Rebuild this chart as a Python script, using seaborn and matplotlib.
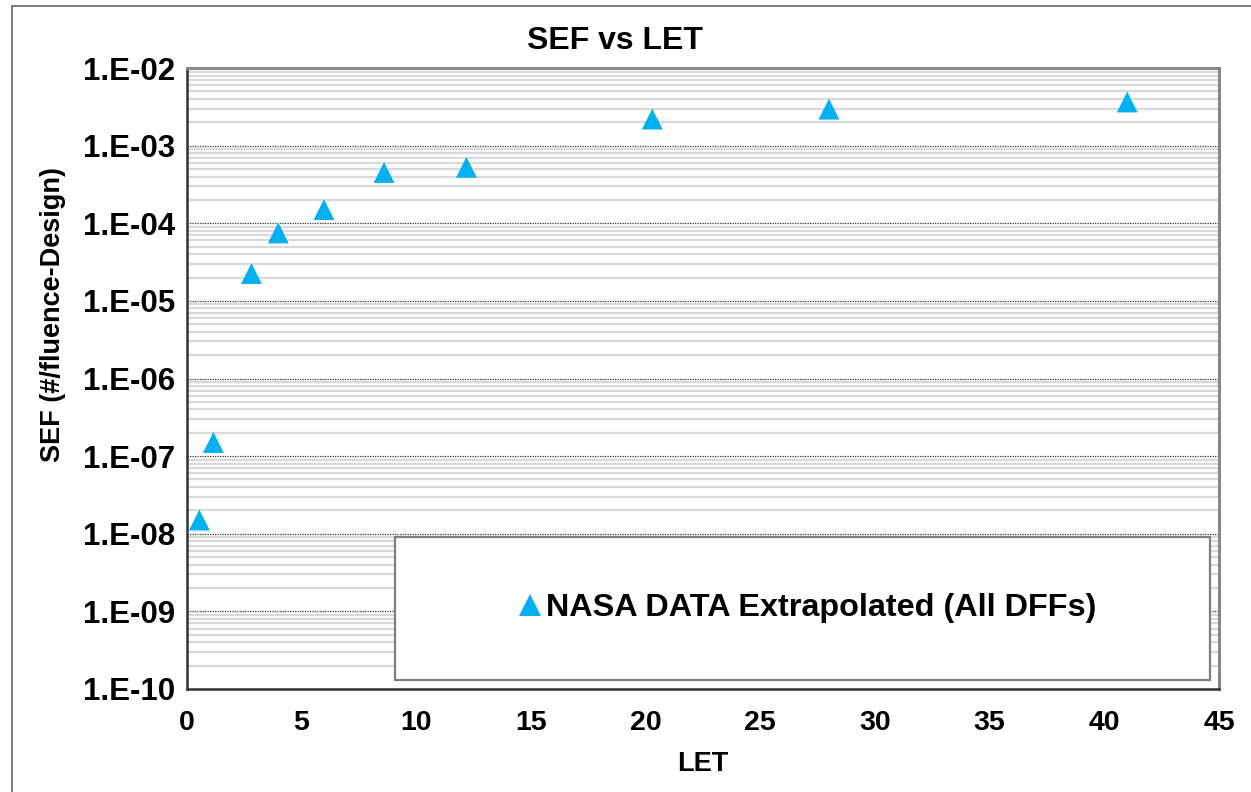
import numpy as np
import pandas as pd
import matplotlib
matplotlib.use("Agg")
import matplotlib.pyplot as plt
import matplotlib.ticker as mticker
from matplotlib.patches import Rectangle
import seaborn as sns

# ---- data ----
let_vals = [0.56, 1.17, 2.83, 4.0, 5.99, 8.61, 12.2, 20.3, 28.0, 41.0]
sef_vals = [1.5e-8, 1.5e-7, 2.25e-5, 7.5e-5, 1.5e-4, 4.5e-4, 5.25e-4, 2.2e-3, 2.95e-3, 3.65e-3]
series_name = "NASA DATA Extrapolated (All DFFs)"
x_ticks = [0, 5, 10, 15, 20, 25, 30, 35, 40, 45]
y_decades = [-10, -9, -8, -7, -6, -5, -4, -3, -2]

df = pd.DataFrame({"LET": let_vals, "SEF": sef_vals, "series": series_name})

sns.set_style("white")
plt.rcParams["font.family"] = ["Liberation Sans", "DejaVu Sans"]
plt.rcParams["font.weight"] = "bold"
plt.rcParams["text.color"] = "black"
plt.rcParams["axes.labelcolor"] = "black"
plt.rcParams["xtick.color"] = "black"
plt.rcParams["ytick.color"] = "black"

W, H, DPI = 1251, 792, 100
fig = plt.figure(figsize=(W / DPI, H / DPI), dpi=DPI)
L, R, T, B = 186.5, 1219, 68, 689
ax = fig.add_axes([L / W, 1 - B / H, (R - L) / W, (B - T) / H])

sns.scatterplot(data=df, x="LET", y="SEF", hue="series", palette=["#00B0F0"],
                marker="^", s=225, linewidth=0, ax=ax, zorder=5, legend=False)

ax.set_yscale("log")
ax.set_ylim(1e-10, 1e-2)
ax.set_xlim(0, 45)

# ticks
ax.set_xticks(x_ticks)
ax.xaxis.set_minor_locator(mticker.MultipleLocator(1))
ax.set_yticks([10.0 ** d for d in y_decades])
ax.yaxis.set_minor_locator(mticker.LogLocator(base=10, subs=np.arange(2, 10), numticks=100))
ax.yaxis.set_minor_formatter(mticker.NullFormatter())
ax.yaxis.set_major_formatter(mticker.FuncFormatter(
    lambda v, p: "1.E" + format(int(round(np.log10(v))), "03d")))
ax.tick_params(axis="both", which="major", direction="out", length=7, width=1.2,
               color="#222222", labelcolor="black")
ax.tick_params(axis="both", which="minor", direction="out", length=4.5, width=1.0,
               color="#222222")
ax.tick_params(axis="y", which="major", labelsize=22.5, pad=1)
ax.tick_params(axis="x", which="major", labelsize=20.5, pad=8)
for lab in ax.get_xticklabels() + ax.get_yticklabels():
    lab.set_fontweight("bold")

# grid
ax.grid(False)
ax.yaxis.grid(True, which="minor", color="#D9D9D9", linewidth=1.6, zorder=0)
ax.yaxis.grid(True, which="major", color="#333333", linewidth=0.9,
              linestyle=(0, (1, 1)), zorder=1)
ax.set_axisbelow(True)

# spines
for side in ["left", "bottom"]:
    ax.spines[side].set_color("#333333")
    ax.spines[side].set_linewidth(1.8)
for side in ["top", "right"]:
    ax.spines[side].set_color("#888888")
    ax.spines[side].set_linewidth(2.2)

# labels
ax.set_xlabel("LET", fontsize=19.5, fontweight="bold", color="black")
ax.xaxis.set_label_coords(0.5, (B - 751) / (B - T))
ax.set_ylabel("SEF (#/fluence-Design)", fontsize=19.5, fontweight="bold", color="black")
ax.yaxis.set_label_coords((66 - L) / (R - L), (B - 314) / (B - T))

fig.text(615 / W, 1 - 41 / H, "SEF vs LET", ha="center", va="center",
         fontsize=23, fontweight="bold", color="black")

# legend box
bx0, bx1, by0, by1 = 395, 1210, 537, 680
ax.add_patch(Rectangle(((bx0 - L) / (R - L), (B - by1) / (B - T)),
                       (bx1 - bx0) / (R - L), (by1 - by0) / (B - T),
                       transform=ax.transAxes, facecolor="white",
                       edgecolor="#7F7F7F", linewidth=1.6, zorder=6))
handle = plt.Line2D([], [], marker="^", linestyle="none", color="#00B0F0",
                    markersize=15.5, markeredgewidth=0)
leg = ax.legend([handle], [series_name], loc="center", frameon=False,
                bbox_to_anchor=((808 - L) / (R - L), (B - 608) / (B - T)),
                prop={"size": 23.3, "weight": "bold"}, handlelength=0.6,
                handletextpad=0.2, borderpad=0, labelcolor="black")
leg.set_zorder(7)

# outer chart border
fig.patches.append(Rectangle((12 / W, -0.05), 1.1, 1 - 6 / H + 0.05,
                             transform=fig.transFigure, fill=False,
                             edgecolor="#666666", linewidth=1.2))

fig.savefig("out.png", dpi=DPI, facecolor="white")
